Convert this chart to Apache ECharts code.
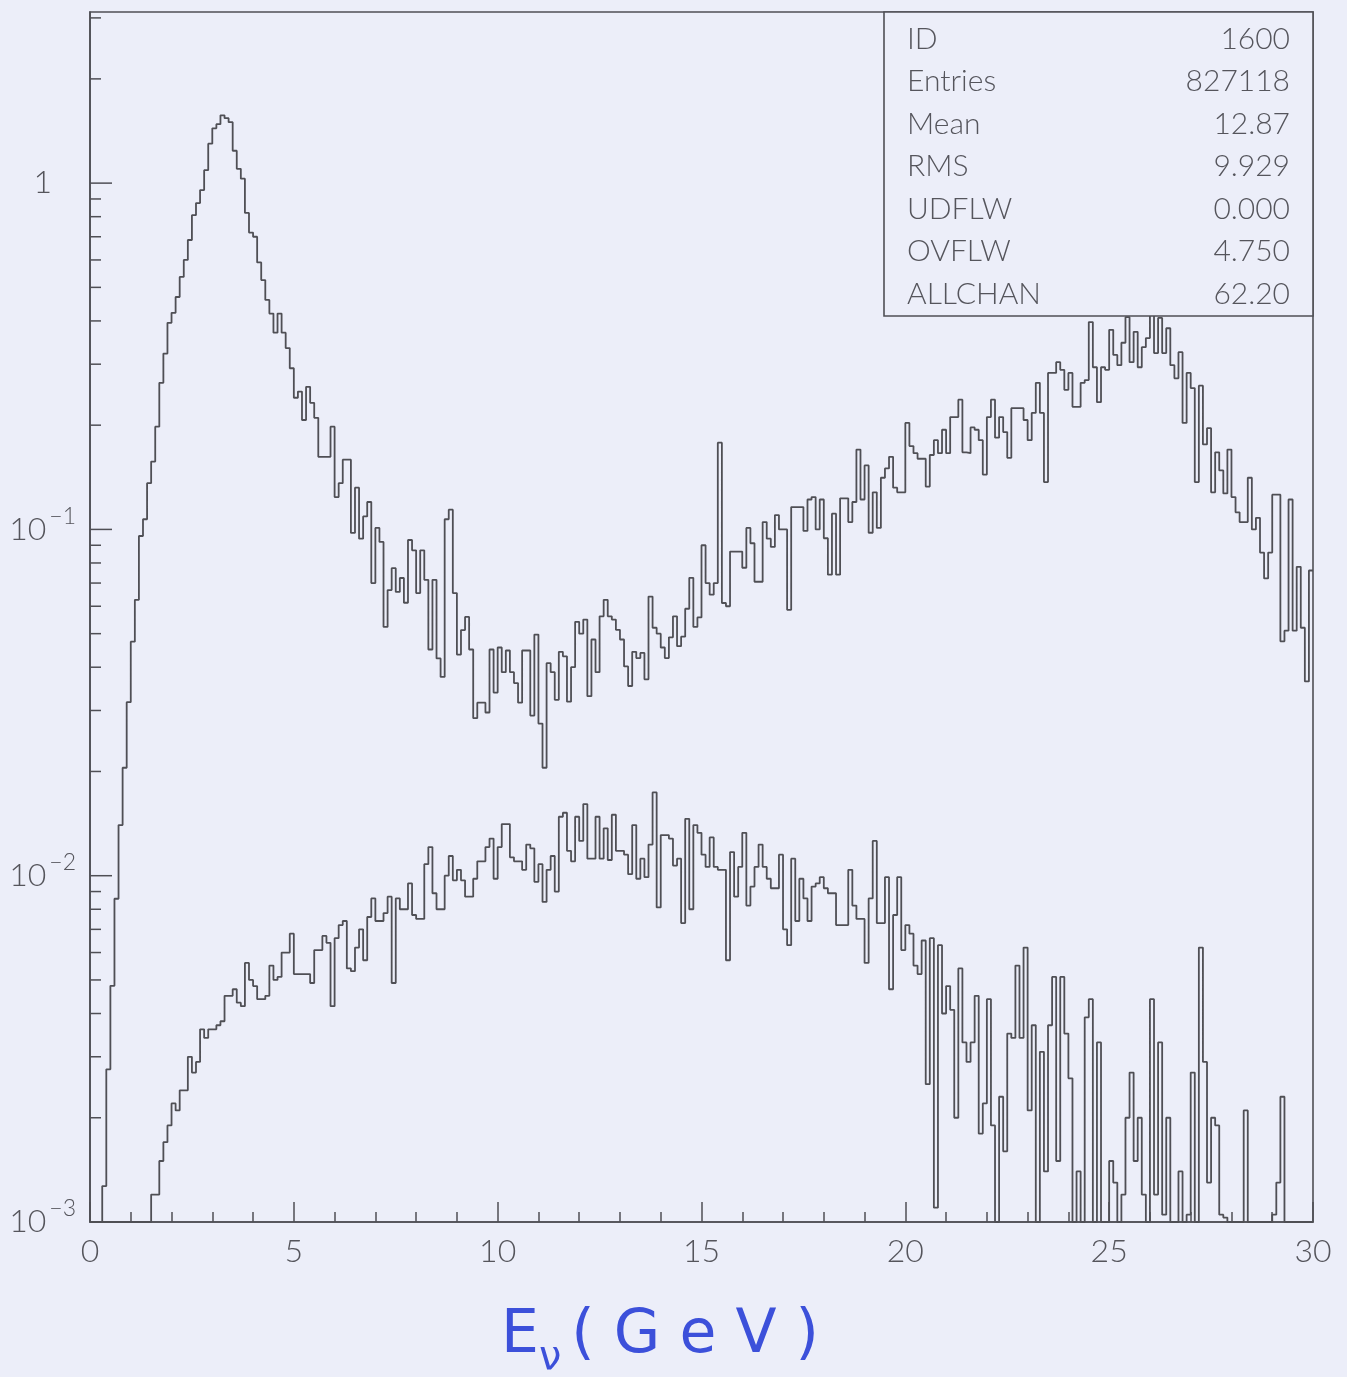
<!DOCTYPE html>
<html>
<head>
<meta charset="utf-8">
<title>E_nu spectrum</title>
<script src="https://cdn.jsdelivr.net/npm/echarts@6/dist/echarts.min.js"></script>
<style>
  html, body { margin: 0; padding: 0; background: #eceef9; }
  #chart { width: 1347px; height: 1377px; }
</style>
</head>
<body>
<div id="chart"></div>
<script>
// histogram: 300 bins of 0.1 GeV, 0 - 30 GeV, log y
const BIN_WIDTH = 0.1;
const X_MIN = 0;
const X_MAX = 30;
const Y_MIN = 0.001;
const Y_MAX = 3.12;
const Y_DECADES = [0.001, 0.01, 0.1, 1];

// upper histogram (bin contents)
const upperCounts = [
  0, 0, 0, 0.00127, 0.00276, 0.00481, 0.00858, 0.0140, 0.0205, 0.0317,
  0.0474, 0.0626, 0.0957, 0.107, 0.136, 0.157, 0.198, 0.265, 0.322, 0.395,
  0.422, 0.469, 0.536, 0.600, 0.685, 0.808, 0.876, 0.955, 1.09, 1.30,
  1.44, 1.48, 1.57, 1.54, 1.50, 1.24, 1.10, 1.03, 0.82, 0.72,
  0.70, 0.59, 0.525, 0.46, 0.42, 0.37, 0.42, 0.37, 0.334, 0.292,
  0.240, 0.250, 0.207, 0.258, 0.232, 0.210, 0.162, 0.162, 0.162, 0.198,
  0.124, 0.136, 0.159, 0.159, 0.0977, 0.132, 0.094, 0.109, 0.120, 0.070,
  0.101, 0.092, 0.0523, 0.0668, 0.0773, 0.066, 0.0724, 0.0614, 0.0932, 0.087,
  0.0655, 0.087, 0.0715, 0.045, 0.0715, 0.0424, 0.0375, 0.107, 0.114, 0.0655,
  0.0435, 0.0512, 0.0559, 0.045, 0.0285, 0.0316, 0.0316, 0.0296, 0.045, 0.0338,
  0.0456, 0.0387, 0.0447, 0.0387, 0.036, 0.0316, 0.0447, 0.0447, 0.029, 0.0497,
  0.0275, 0.0205, 0.0411, 0.0387, 0.0322, 0.0443, 0.043, 0.0318, 0.040, 0.0541,
  0.050, 0.0549, 0.033, 0.0481, 0.0387, 0.0561, 0.0626, 0.0561, 0.0549, 0.0513,
  0.0481, 0.0402, 0.0353, 0.0443, 0.0425, 0.044, 0.0369, 0.064, 0.052, 0.050,
  0.0456, 0.0425, 0.0488, 0.0561, 0.046, 0.049, 0.059, 0.0725, 0.0523, 0.0557,
  0.090, 0.070, 0.0648, 0.070, 0.178, 0.0613, 0.060, 0.0863, 0.0863, 0.0863,
  0.0775, 0.101, 0.0912, 0.0706, 0.0706, 0.105, 0.094, 0.089, 0.110, 0.100,
  0.100, 0.0586, 0.116, 0.116, 0.116, 0.099, 0.122, 0.124, 0.100, 0.122,
  0.0943, 0.074, 0.111, 0.074, 0.123, 0.123, 0.105, 0.120, 0.170, 0.122,
  0.153, 0.0978, 0.128, 0.101, 0.141, 0.150, 0.162, 0.132, 0.128, 0.128,
  0.203, 0.174, 0.166, 0.160, 0.160, 0.133, 0.164, 0.181, 0.166, 0.194,
  0.166, 0.211, 0.211, 0.237, 0.167, 0.166, 0.197, 0.194, 0.181, 0.144,
  0.211, 0.237, 0.184, 0.211, 0.191, 0.161, 0.224, 0.224, 0.224, 0.207,
  0.181, 0.217, 0.265, 0.217, 0.137, 0.283, 0.283, 0.304, 0.289, 0.253,
  0.283, 0.226, 0.226, 0.265, 0.270, 0.397, 0.294, 0.233, 0.294, 0.289,
  0.377, 0.319, 0.298, 0.346, 0.410, 0.304, 0.372, 0.294, 0.336, 0.357,
  0.430, 0.323, 0.408, 0.323, 0.381, 0.298, 0.273, 0.325, 0.203, 0.283,
  0.256, 0.137, 0.260, 0.176, 0.196, 0.128, 0.167, 0.148, 0.127, 0.170,
  0.124, 0.112, 0.105, 0.105, 0.141, 0.100, 0.108, 0.0857, 0.0722, 0.0857,
  0.126, 0.126, 0.0475, 0.051, 0.122, 0.051, 0.078, 0.052, 0.0364, 0.0761
];

// lower histogram
const lowerCounts = [
  0, 0, 0, 0, 0, 0, 0, 0, 0, 0,
  0, 0, 0, 0, 0, 0.0012, 0.0012, 0.0015, 0.0017, 0.0019,
  0.0022, 0.0021, 0.0024, 0.0024, 0.0030, 0.0027, 0.0029, 0.0036, 0.0034, 0.0036,
  0.0036, 0.0037, 0.0038, 0.0045, 0.0045, 0.0047, 0.0043, 0.0042, 0.0056, 0.0050,
  0.0048, 0.0044, 0.0044, 0.0045, 0.0055, 0.0050, 0.0051, 0.0060, 0.0060, 0.0068,
  0.0052, 0.0052, 0.0052, 0.0052, 0.0049, 0.0061, 0.0061, 0.0067, 0.0064, 0.0042,
  0.0066, 0.0072, 0.0074, 0.0054, 0.0053, 0.0062, 0.0070, 0.0057, 0.0076, 0.0086,
  0.0074, 0.0074, 0.0078, 0.0087, 0.0049, 0.0086, 0.0080, 0.0080, 0.0095, 0.0077,
  0.0075, 0.0075, 0.0108, 0.0121, 0.0089, 0.0080, 0.0080, 0.0100, 0.0114, 0.0097,
  0.0104, 0.0097, 0.0087, 0.0087, 0.0098, 0.0110, 0.0110, 0.0121, 0.0128, 0.0098,
  0.0121, 0.0141, 0.0141, 0.0113, 0.0110, 0.0110, 0.0104, 0.0123, 0.0120, 0.0096,
  0.0108, 0.0084, 0.0104, 0.0114, 0.0090, 0.0148, 0.0152, 0.0118, 0.0110, 0.0148,
  0.0126, 0.0161, 0.0112, 0.0112, 0.0148, 0.0112, 0.0137, 0.0111, 0.0150, 0.0118,
  0.0118, 0.0115, 0.0101, 0.0140, 0.0098, 0.0112, 0.0099, 0.0123, 0.0174, 0.0081,
  0.0131, 0.0131, 0.0128, 0.0107, 0.0112, 0.0073, 0.0146, 0.0080, 0.0140, 0.0133,
  0.0115, 0.0106, 0.0129, 0.0106, 0.0104, 0.0104, 0.0057, 0.0117, 0.0087, 0.0106,
  0.0133, 0.0082, 0.0093, 0.0106, 0.0123, 0.0106, 0.0098, 0.0092, 0.0092, 0.0115,
  0.0070, 0.0063, 0.0112, 0.0074, 0.0098, 0.0086, 0.0074, 0.0093, 0.0095, 0.0099,
  0.0092, 0.0089, 0.0089, 0.0072, 0.0072, 0.0072, 0.0104, 0.0082, 0.0075, 0.0075,
  0.0056, 0.0086, 0.0126, 0.0073, 0.0073, 0.0099, 0.0047, 0.0077, 0.0099, 0.0061,
  0.0072, 0.0068, 0.0055, 0.0052, 0.0065, 0.0025, 0.0066, 0.0011, 0.0063, 0.0040,
  0.0048, 0.0041, 0.0020, 0.0054, 0.0033, 0.0029, 0.0033, 0.0045, 0.0018, 0.0022,
  0.0044, 0.0019, 0, 0.0023, 0.0016, 0.0035, 0.0034, 0.0055, 0.0034, 0.0062,
  0.0021, 0.0037, 0, 0.0031, 0.0014, 0.0037, 0.0051, 0.0015, 0.0051, 0.0035,
  0.0026, 0, 0.0014, 0, 0.0039, 0.0044, 0, 0.0033, 0, 0,
  0.0015, 0.0013, 0, 0.0012, 0.0020, 0.0027, 0.0015, 0.0020, 0.0012, 0,
  0.0044, 0.0012, 0.0033, 0.00105, 0.0020, 0, 0, 0.0014, 0, 0.00105,
  0.0027, 0, 0.0062, 0.0029, 0.0013, 0.0020, 0.0019, 0.00105, 0.00103, 0,
  0, 0, 0, 0.0021, 0, 0, 0, 0, 0, 0,
  0.00105, 0.0013, 0.0023, 0, 0, 0, 0, 0, 0, 0
];

// stats box
const statsLabels = ['ID', 'Entries', 'Mean', 'RMS', 'UDFLW', 'OVFLW', 'ALLCHAN'];
const statsValues = ['1600', '827118', '12.87', '9.929', '0.000', '4.750', '62.20'];

const LINE = '#4f4f55';
const TEXT = '#55555c';
const FONT = 'Lato';
const BLUE = '#3c50da';

// 直方图转为阶梯点, 空 bin 落在坐标轴下沿
function toSteps(counts) {
  const pts = counts.map((v, i) => [X_MIN + i * BIN_WIDTH, Math.max(v, Y_MIN)]);
  pts.push([X_MAX, Math.max(counts[counts.length - 1], Y_MIN)]);
  return pts;
}

// y 轴刻度 (内侧, 十进位长刻度)
const yTicks = [];
Y_DECADES.forEach(d => {
  yTicks.push([0, d, 22]);
  for (let m = 2; m <= 9; m++) {
    if (d * m < Y_MAX) yTicks.push([0, d * m, 11]);
  }
});

function histSeries(name, counts) {
  return {
    name,
    type: 'line',
    step: 'end',
    data: toSteps(counts),
    showSymbol: false,
    symbol: 'none',
    lineStyle: { color: LINE, width: 1.8 },
    z: 4
  };
}

const chart = echarts.init(document.getElementById('chart'));

chart.setOption({
  backgroundColor: '#eceef9',
  animation: false,
  grid: {
    left: 90, right: 34, top: 12, bottom: 155,
    show: true, borderColor: LINE, borderWidth: 1.6, backgroundColor: 'transparent'
  },
  xAxis: {
    type: 'value',
    min: X_MIN, max: X_MAX, interval: 5,
    axisLine: { show: true, lineStyle: { color: LINE, width: 1.6 } },
    axisTick: { show: true, inside: true, length: 20, lineStyle: { color: LINE, width: 1.5 } },
    minorTick: { show: true, splitNumber: 5, length: 10, lineStyle: { color: LINE, width: 1.5 } },
    splitLine: { show: false },
    axisLabel: { margin: 14, fontSize: 32, color: TEXT, fontFamily: FONT, fontWeight: 300 }
  },
  yAxis: {
    type: 'log',
    logBase: 10,
    min: Y_MIN, max: Y_MAX,
    axisLine: { show: true, lineStyle: { color: LINE, width: 1.6 } },
    axisTick: { show: false },
    splitLine: { show: false },
    axisLabel: {
      margin: 14,
      formatter: v => {
        const lg = Math.log10(v);
        const e = Math.round(lg);
        if (Math.abs(lg - e) > 1e-6) return '';
        if (e === 0) return '{b|1}{gap|}';
        return '{b|10}{s|\u2212' + (-e) + '}';
      },
      rich: {
        b: { fontSize: 32, color: TEXT, fontFamily: FONT, fontWeight: 300 },
        s: { fontSize: 23, color: TEXT, fontFamily: FONT, fontWeight: 300, padding: [0, 0, 26, 3] },
        gap: { width: 24 }
      }
    }
  },
  series: [
    histSeries('upper', upperCounts),
    histSeries('lower', lowerCounts),
    {
      name: 'yTicks',
      type: 'custom',
      data: yTicks,
      encode: { x: 0, y: 1 },
      silent: true,
      clip: false,
      z: 5,
      renderItem: (params, api) => {
        const p = api.coord([X_MIN, api.value(1)]);
        const len = api.value(2);
        return {
          type: 'line',
          shape: { x1: p[0], y1: p[1], x2: p[0] + len, y2: p[1] },
          style: { stroke: LINE, lineWidth: 1.5 }
        };
      }
    }
  ],
  graphic: [
    {
      type: 'rect',
      shape: { x: 884, y: 12, width: 429, height: 304 },
      style: { fill: '#eceef9', stroke: LINE, lineWidth: 1.6 },
      z: 10
    },
    ...statsLabels.map((t, i) => ({
      type: 'text', x: 907, y: 39 + i * 42.5, z: 11,
      style: { text: t, fill: TEXT, font: `300 30px ${FONT}`, textVerticalAlign: 'middle', textAlign: 'left' }
    })),
    ...statsValues.map((t, i) => ({
      type: 'text', x: 1290, y: 39 + i * 42.5, z: 11,
      style: { text: t, fill: TEXT, font: `300 30px ${FONT}`, textVerticalAlign: 'middle', textAlign: 'right' }
    })),
    {
      type: 'text', x: 660, y: 1336, z: 11,
      style: {
        text: '{e|E}{nu|\u03bd}{t|( G e V )}',
        align: 'center', verticalAlign: 'middle',
        rich: {
          e: { fontSize: 60, fill: BLUE, fontFamily: 'DejaVu Sans' },
          nu: { fontSize: 40, fill: BLUE, fontFamily: 'DejaVu Sans', padding: [46, 10, 0, 0] },
          t: { fontSize: 60, fill: BLUE, fontFamily: 'DejaVu Sans' }
        }
      }
    }
  ]
});
</script>
</body>
</html>
